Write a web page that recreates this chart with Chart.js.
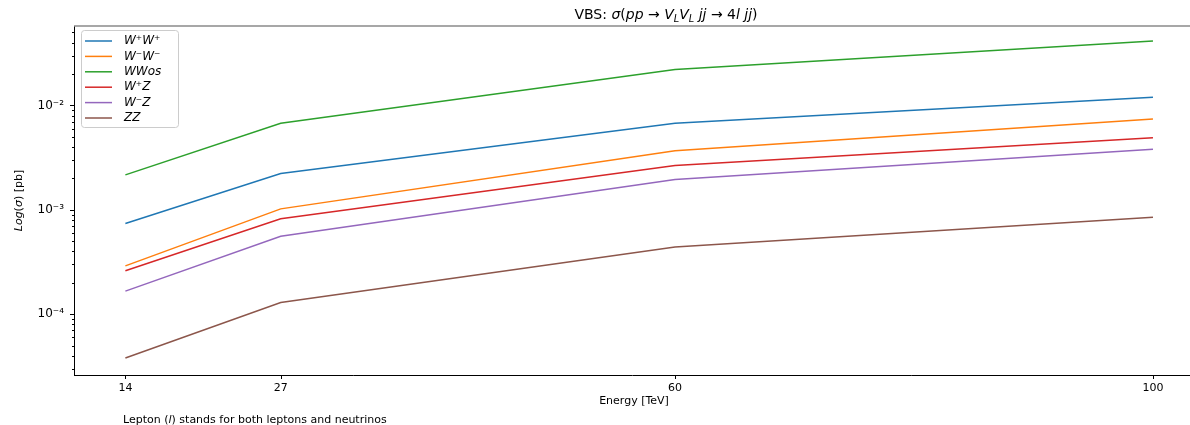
<!DOCTYPE html>
<html lang="en">
<head>
  <meta charset="UTF-8">
  <title>VBS cross sections</title>
  <script src="https://cdn.jsdelivr.net/npm/chart.js"></script>
  <style>
    body { margin: 0; background: #fff; }
    canvas { display: block; }
  </style>
</head>
<body>
  <canvas id="vbs" width="1190" height="425"></canvas>

<script>
  // energies in TeV and cross sections in pb
  const energies = [14, 27, 60, 100];
  const wpwp = [7.4e-4, 2.23e-3, 6.75e-3, 1.20e-2];
  const wmwm = [2.9e-4, 1.02e-3, 3.68e-3, 7.4e-3];
  const wwos = [2.16e-3, 6.75e-3, 2.21e-2, 4.15e-2];
  const wpz = [2.6e-4, 8.2e-4, 2.65e-3, 4.9e-3];
  const wmz = [1.66e-4, 5.57e-4, 1.95e-3, 3.8e-3];
  const zz = [3.8e-5, 1.29e-4, 4.4e-4, 8.5e-4];

  const seriesLabels = ['W⁺W⁺', 'W⁻W⁻', 'WWos', 'W⁺Z', 'W⁻Z', 'ZZ'];
  const seriesColors = ['#1f77b4', '#ff7f0e', '#2ca02c', '#d62728', '#9467bd', '#8c564b'];
  const yDecades = [-5, -4, -3, -2, -1];
  const supDigits = { '-': '⁻', '0': '⁰', '1': '¹', '2': '²', '3': '³', '4': '⁴', '5': '⁵' };

  const FONT = '"DejaVu Sans", sans-serif';

  // draw text made of pieces: {t, it, sub}
  function drawRich(ctx, parts, x, y, size, align) {
    const fontOf = p => (p.it ? 'italic ' : '') + (p.sub ? size * 0.7 : size) + 'px ' + FONT;
    let total = 0;
    parts.forEach(p => { ctx.font = fontOf(p); total += ctx.measureText(p.t).width; });
    let cx = align === 'center' ? x - total / 2 : x;
    ctx.textAlign = 'left';
    ctx.textBaseline = 'alphabetic';
    parts.forEach(p => {
      ctx.font = fontOf(p);
      ctx.fillText(p.t, cx, p.sub ? y + size * 0.2 : y);
      cx += ctx.measureText(p.t).width;
    });
  }

  const decor = {
    id: 'decor',
    afterDraw(chart) {
      const ctx = chart.ctx;
      const area = chart.chartArea;
      const xs = chart.scales.x, ys = chart.scales.y;
      ctx.save();
      ctx.fillStyle = '#000';

      // top spine
      ctx.strokeStyle = '#8a8a8a';
      ctx.lineWidth = 1.5;
      ctx.beginPath();
      ctx.moveTo(area.left, area.top);
      ctx.lineTo(chart.width, area.top);
      ctx.stroke();

      // tick marks
      ctx.strokeStyle = '#000';
      ctx.lineWidth = 1;
      xs.ticks.forEach(t => {
        const px = Math.round(xs.getPixelForValue(t.value)) + 0.5;
        ctx.beginPath();
        ctx.moveTo(px, area.bottom);
        ctx.lineTo(px, area.bottom + 4);
        ctx.stroke();
      });
      ys.ticks.forEach(t => {
        const py = Math.round(ys.getPixelForValue(t.value)) + 0.5;
        const len = t.major ? 4 : 2;
        ctx.beginPath();
        ctx.moveTo(area.left, py);
        ctx.lineTo(area.left - len, py);
        ctx.stroke();
      });

      // legend
      const lx = 81, ly = 30, lw = 97, lh = 97;
      ctx.fillStyle = 'rgba(255,255,255,0.8)';
      ctx.strokeStyle = '#cccccc';
      ctx.beginPath();
      ctx.roundRect(lx + 0.5, ly + 0.5, lw, lh, 3);
      ctx.fill();
      ctx.stroke();
      chart.data.datasets.forEach((ds, i) => {
        const ey = 41 + i * 15.4;
        ctx.strokeStyle = ds.borderColor;
        ctx.lineWidth = 1.5;
        ctx.beginPath();
        ctx.moveTo(85, ey);
        ctx.lineTo(112, ey);
        ctx.stroke();
        ctx.fillStyle = '#000';
        ctx.font = 'italic 12px ' + FONT;
        ctx.textAlign = 'left';
        ctx.textBaseline = 'middle';
        ctx.fillText(ds.label, 124, ey);
      });

      // title
      ctx.fillStyle = '#000';
      drawRich(ctx, [
        { t: 'VBS: ' }, { t: 'σ' , it: true }, { t: '(' }, { t: 'pp', it: true }, { t: ' → ' },
        { t: 'V', it: true }, { t: 'L', it: true, sub: true }, { t: 'V', it: true }, { t: 'L', it: true, sub: true },
        { t: ' jj', it: true }, { t: ' → ' }, { t: '4' }, { t: 'l jj', it: true }, { t: ')' }
      ], 666, 19, 14, 'center');

      // axis titles and note
      drawRich(ctx, [{ t: 'Energy [TeV]' }], 634, 404, 11, 'center');
      drawRich(ctx, [{ t: 'Lepton (' }, { t: 'l', it: true }, { t: ') stands for both leptons and neutrinos' }], 123, 423, 11, 'left');
      ctx.translate(22, (area.top + area.bottom) / 2);
      ctx.rotate(-Math.PI / 2);
      drawRich(ctx, [{ t: 'Log', it: true }, { t: '(' }, { t: 'σ', it: true }, { t: ') [pb]' }], 0, 0, 11, 'center');
      ctx.restore();
    }
  };

  const allSeries = [wpwp, wmwm, wwos, wpz, wmz, zz];

  new Chart(document.getElementById('vbs'), {
    type: 'line',
    data: {
      datasets: allSeries.map((vals, i) => ({
        label: seriesLabels[i],
        data: energies.map((e, j) => ({ x: e, y: vals[j] })),
        borderColor: seriesColors[i],
        borderWidth: 1.5,
        pointRadius: 0,
        tension: 0,
        fill: false
      }))
    },
    options: {
      responsive: false,
      animation: false,
      devicePixelRatio: 1,
      layout: { padding: { left: 0, top: 26, right: 0, bottom: 0 } },
      plugins: {
        legend: { display: false },
        title: { display: false },
        tooltip: { enabled: false }
      },
      scales: {
        x: {
          type: 'linear',
          min: 9.7,
          max: 103.1,
          afterBuildTicks: s => { s.ticks = energies.map(v => ({ value: v })); },
          afterFit: s => { s.height = 50; },
          grid: { display: false, tickLength: 0 },
          border: { display: true, color: '#000', width: 1 },
          ticks: {
            font: { family: FONT, size: 11 },
            color: '#000',
            padding: 7,
            maxRotation: 0,
            autoSkip: false
          }
        },
        y: {
          type: 'logarithmic',
          min: 2.61e-5,
          max: 0.0577,
          afterBuildTicks: s => {
            const t = [];
            yDecades.forEach(e => {
              for (let m = 1; m <= 9; m++) {
                const v = m * Math.pow(10, e);
                if (v >= s.min && v <= s.max) t.push({ value: v, major: m === 1 });
              }
            });
            s.ticks = t;
          },
          afterFit: s => { s.width = 74; },
          grid: { display: false, tickLength: 0 },
          border: { display: true, color: '#000', width: 1 },
          ticks: {
            font: { family: FONT, size: 12 },
            color: '#000',
            padding: 10,
            autoSkip: false,
            callback: function (v) {
              const e = Math.round(Math.log10(v));
              if (Math.abs(v / Math.pow(10, e) - 1) > 1e-6) return '';
              return '10' + String(e).split('').map(c => supDigits[c]).join('');
            }
          }
        }
      }
    },
    plugins: [decor]
  });
</script>
</body>
</html>
